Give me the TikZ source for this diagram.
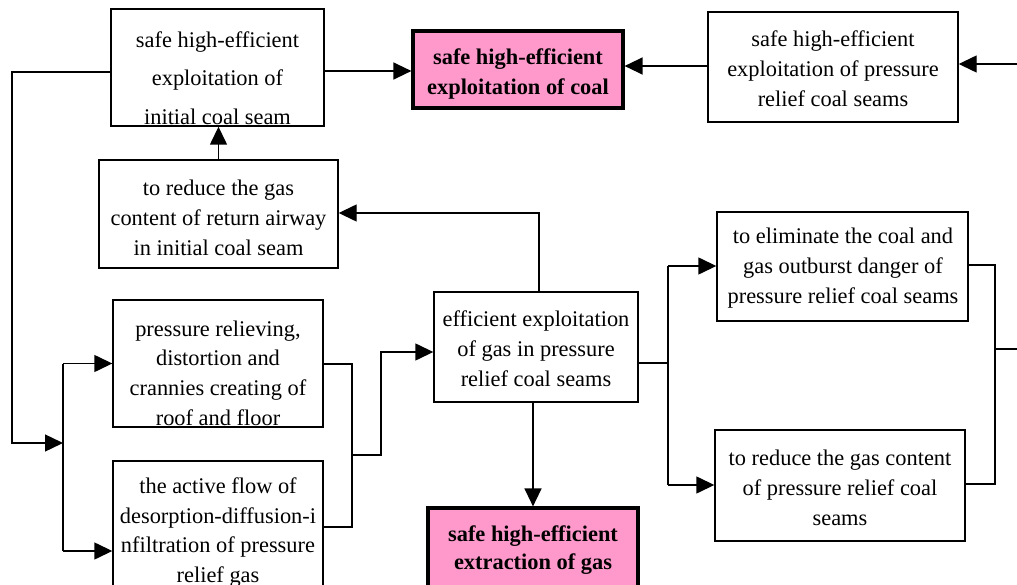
\documentclass[tikz,border=0pt]{standalone}
\usepackage{fontspec}
\setmainfont{Liberation Serif}
\usetikzlibrary{arrows.meta}
\definecolor{pinkfill}{HTML}{FF99CC}
\begin{document}
\begin{tikzpicture}[x=1pt,y=-1pt,
  box/.style={draw, line width=1.4pt, inner sep=0pt},
  pinkbox/.style={draw, line width=3.2pt, fill=pinkfill, inner sep=0pt},
  txt/.style={align=center, inner sep=0pt, font=\fontsize{22.4}{30}\selectfont},
  conn/.style={line width=1.4pt},
  arr/.style={conn, -{Triangle[length=18pt,width=17pt]}},
]
\clip (0,0) rectangle (1017,585);
\fill[white] (0,0) rectangle (1017,585);

% boxes
\node[box, minimum width=213pt, minimum height=117pt] (A) at (217.5,67.5) {};
\node[pinkbox, minimum width=210pt, minimum height=77pt] (P1) at (518,69.5) {};
\node[box, minimum width=250pt, minimum height=110pt] (R) at (833,67) {};
\node[box, minimum width=239pt, minimum height=108pt] (B) at (218.5,214) {};
\node[box, minimum width=210pt, minimum height=127pt] (C) at (218,363.5) {};
\node[box, minimum width=210pt, minimum height=144pt] (D) at (218,533) {};
\node[box, minimum width=204pt, minimum height=110pt] (E) at (536,347) {};
\node[pinkbox, minimum width=210pt, minimum height=97pt] (P2) at (533,556.5) {};
\node[box, minimum width=251pt, minimum height=109pt] (F) at (842.5,266.5) {};
\node[box, minimum width=250pt, minimum height=111pt] (G) at (840,485.5) {};

% texts
\node[txt, font=\fontsize{22.4}{38.5}\selectfont] (At) at (217.5,78) {safe high-efficient\\exploitation of\\initial coal seam};
\node[txt, font=\fontsize{22.4}{30}\selectfont\bfseries] (P1t) at (518,74.5) {safe high-efficient\\exploitation of coal};
\node[txt] (Rt) at (833,69) {safe high-efficient\\exploitation of pressure\\relief coal seams};
\node[txt] (Bt) at (218.5,218) {to reduce the gas\\content of return airway\\in initial coal seam};
\node[txt, font=\fontsize{22.4}{29.7}\selectfont] (Ct) at (218,373) {pressure relieving,\\distortion and\\crannies creating of\\roof and floor};
\node[txt, font=\fontsize{22.4}{29.5}\selectfont] (Dt) at (218,532.5) {the active flow of\\desorption-diffusion-i\\nfiltration of pressure\\relief gas};
\node[txt] (Et) at (536,348.5) {efficient exploitation\\of gas in pressure\\relief coal seams};
\node[txt, font=\fontsize{22.4}{28}\selectfont\bfseries] (P2t) at (533,550.5) {safe high-efficient\\extraction of gas};
\node[txt] (Ft) at (843,268.5) {to eliminate the coal and\\gas outburst danger of\\pressure relief coal seams};
\node[txt] (Gt) at (840,487.5) {to reduce the gas content\\of pressure relief coal\\seams};

% top row
\coordinate (rin) at (1017,64);
\draw[arr] (rin) -- (R.east |- rin);
\coordinate (p1e) at ([yshift=3.5pt]P1.east);
\draw[arr] (R.west |- p1e) -- (p1e);
\coordinate (p1w) at ([yshift=-1.5pt]P1.west);
\draw[arr] (A.east |- p1w) -- (p1w);

% left loop
\coordinate (lx) at (12,72);
\coordinate (j1) at (63,443);
\draw[arr] (A.west |- lx) -- (lx) |- (j1);
\coordinate (d1) at (63,551);
\draw[conn] (j1 |- C.west) -- (d1);
\draw[arr] (j1 |- C.west) -- (C.west);
\draw[arr] (d1) -- (D.west |- d1);

% B to A
\draw[arr] (B.north) -- (B.north |- A.south);

% E to B
\coordinate (eb) at (539,213);
\draw[arr] (eb |- E.north) -- (eb) -- (B.east |- eb);

% C, D merge to E
\coordinate (m1) at (352,364);
\coordinate (m2) at (352,527);
\draw[conn] (C.east |- m1) -- (m1) -- (m2) -- (D.east |- m2);
\coordinate (m3) at (352,455);
\coordinate (m4) at (381,352);
\draw[arr] (m3) -| (m4) -- (E.west |- m4);

% E to P2
\coordinate (es) at (533,402);
\draw[arr] (es |- E.south) -- (es |- P2.north);

% E to F, G
\coordinate (s1) at (668,363);
\coordinate (s2) at (668,266);
\coordinate (s3) at (668,485);
\draw[conn] (E.east |- s1) -- (s1);
\draw[conn] (s2) -- (s3);
\draw[arr] (s2) -- (F.west |- s2);
\draw[arr] (s3) -- (G.west |- s3);

% F, G merge to right
\coordinate (t1) at (995,265);
\coordinate (t2) at (995,484);
\draw[conn] (F.east |- t1) -- (t1) -- (t2) -- (G.east |- t2);
\coordinate (t3) at (995,349);
\coordinate (tout) at (1017,349);
\draw[conn] (t3) -- (tout);
\end{tikzpicture}
\end{document}
